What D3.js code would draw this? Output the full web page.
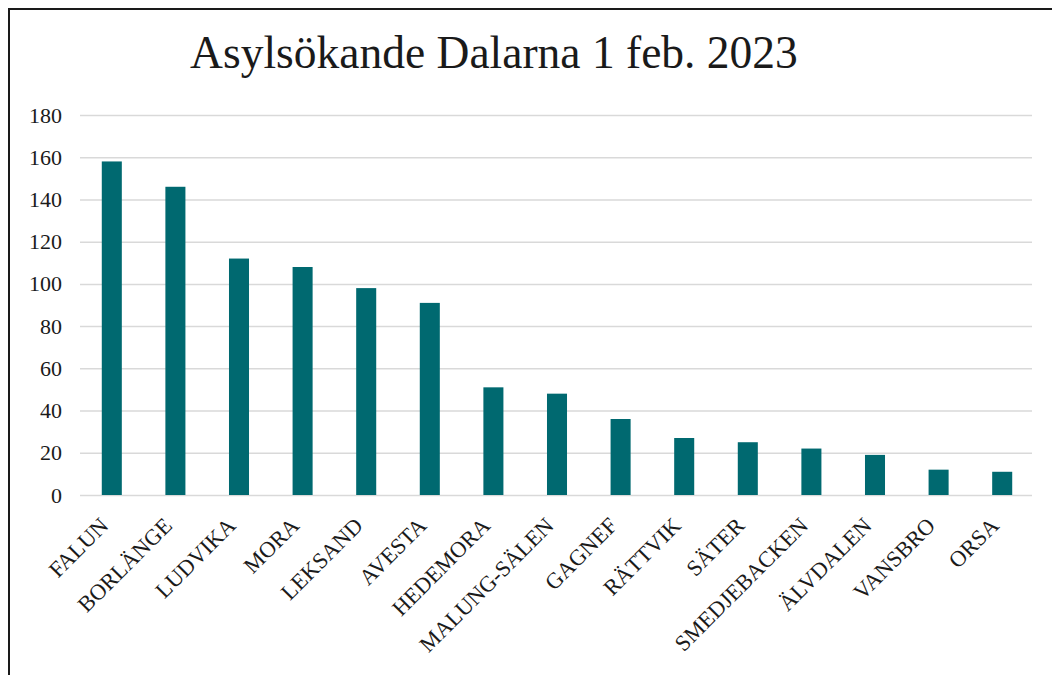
<!DOCTYPE html>
<html>
<head>
<meta charset="utf-8">
<script src="https://cdn.jsdelivr.net/npm/d3@7"></script>
<style>
    body { margin: 0; background: #fff; }
    .chart text { font-family: "Liberation Serif", "Times New Roman", serif; fill: #1a1a1a; }
</style>
</head>
<body>
<div class="chart"></div>
<script>
// kommuner och antal asylsökande
const municipalities = ["FALUN", "BORLÄNGE", "LUDVIKA", "MORA", "LEKSAND", "AVESTA", "HEDEMORA",
    "MALUNG-SÄLEN", "GAGNEF", "RÄTTVIK", "SÄTER", "SMEDJEBACKEN", "ÄLVDALEN", "VANSBRO", "ORSA"];
const seekers = [158, 146, 112, 108, 98, 91, 51, 48, 36, 27, 25, 22, 19, 12, 11];
const yTicks = [0, 20, 40, 60, 80, 100, 120, 140, 160, 180];
const title = "Asylsökande Dalarna 1 feb. 2023";

const width = 1052, height = 675;
const margin = {top: 115, right: 20, bottom: 180, left: 80};

let svg = d3.select(".chart")
    .append("svg")
    .attr("width", width)
    .attr("height", height);

// frame (only top and left edges are visible)
svg.append("path")
    .attr("d", "M9,675 V9 H1052")
    .attr("fill", "none")
    .attr("stroke", "#1a1a1a")
    .attr("stroke-width", 2);

svg.append("text")
    .attr("x", 494)
    .attr("y", 68)
    .attr("text-anchor", "middle")
    .style("font-size", "45.5px")
    .text(title);

let xScale = d3.scaleBand()
    .domain(municipalities)
    .range([margin.left, 1034])
    .paddingInner(0.685)
    .paddingOuter(0.3425);

let yScale = d3.scaleLinear()
    .domain([0, 180])
    .range([495, margin.top]);

// gridlines + y labels
let yAxis = svg.append("g")
    .attr("transform", "translate(" + margin.left + ",0)")
    .call(d3.axisLeft(yScale).tickValues(yTicks).tickSize(-(1032 - margin.left)).tickPadding(18));
yAxis.select(".domain").remove();
yAxis.selectAll(".tick line").attr("stroke", "#d9d9d9").attr("stroke-width", 1.5);
yAxis.selectAll(".tick text")
    .style("font-size", "22px")
    .attr("dy", "0.32em");

// bars
svg.selectAll(".bar")
    .data(seekers)
    .enter().append("rect")
    .attr("class", "bar")
    .attr("x", (d, i) => xScale(municipalities[i]))
    .attr("width", xScale.bandwidth())
    .attr("y", d => yScale(d))
    .attr("height", d => yScale(0) - yScale(d))
    .attr("fill", "#006970");

// x labels, rotated
svg.selectAll(".xlabel")
    .data(municipalities)
    .enter().append("text")
    .attr("class", "xlabel")
    .attr("text-anchor", "end")
    .style("font-size", "22.5px")
    .attr("transform", d => "translate(" + (xScale(d) + xScale.bandwidth() / 2 - 2) + ",527) rotate(-45)")
    .text(d => d);
</script>
</body>
</html>
